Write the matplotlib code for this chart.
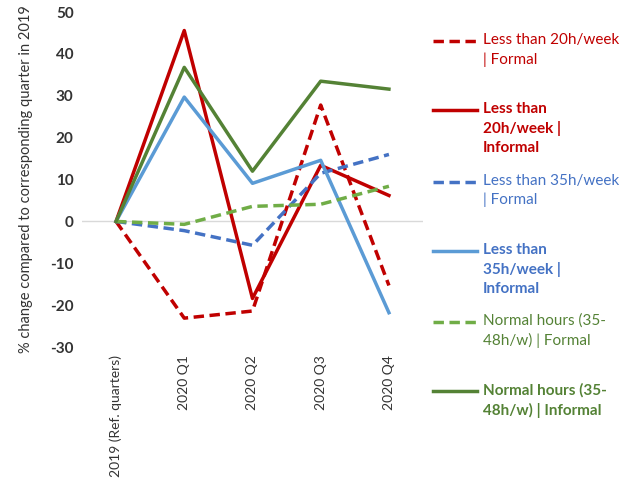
import matplotlib
matplotlib.use("Agg")
import matplotlib.pyplot as plt
from matplotlib.lines import Line2D

plt.rcParams['font.family'] = ['Lato', 'DejaVu Sans']

# data
quarters = ['2019 (Ref. quarters)', '2020 Q1', '2020 Q2', '2020 Q3', '2020 Q4']
lt20_formal = [0, -23.1, -21.4, 27.8, -15.3]
lt20_informal = [0, 45.6, -18.4, 13.4, 6.2]
lt35_formal = [0, -2.2, -5.7, 11.5, 16.0]
lt35_informal = [0, 29.7, 9.1, 14.6, -21.8]
normal_formal = [0, -0.7, 3.6, 4.1, 8.4]
normal_informal = [0, 36.8, 12.0, 33.5, 31.6]

series = [
    ("Less than 20h/week\n| Formal", lt20_formal, '#C00000', '--', 'normal', '#C00000'),
    ("Less than\n20h/week |\nInformal", lt20_informal, '#C00000', '-', 'bold', '#C00000'),
    ("Less than 35h/week\n| Formal", lt35_formal, '#4472C4', '--', 'normal', '#4472C4'),
    ("Less than\n35h/week |\nInformal", lt35_informal, '#5B9BD5', '-', 'bold', '#4472C4'),
    ("Normal hours (35-\n48h/w) | Formal", normal_formal, '#70AD47', '--', 'normal', '#548235'),
    ("Normal hours (35-\n48h/w) | Informal", normal_informal, '#548235', '-', 'bold', '#548235'),
]

fig = plt.figure(figsize=(6.4, 4.84), dpi=100)
ax = fig.add_axes([0.128, 0.283, 0.533, 0.692])

x = list(range(len(quarters)))
ax.axhline(0, color='#D9D9D9', lw=1, zorder=0)
for label, vals, col, ls, wt, tcol in series:
    if ls == '--':
        ax.plot(x, vals, color=col, lw=2.5, dashes=(3, 1.6))
    else:
        ax.plot(x, vals, color=col, lw=2.5)

ax.set_xlim(-0.5, len(quarters) - 0.5)
ax.set_ylim(-30, 50)
ax.set_yticks(range(-30, 51, 10))
ax.set_yticklabels([str(v) for v in range(-30, 51, 10)], fontweight='bold', fontsize=11, color='#333333')
ax.set_xticks(x)
ax.set_xticklabels(quarters, rotation=90, fontsize=10, color='#333333', va='top')
ax.tick_params(length=0, pad=6)
for s in ax.spines.values():
    s.set_visible(False)
ax.set_ylabel('% change compared to corresponding quarter in 2019', fontsize=10.5, color='#333333', labelpad=12)

# legend drawn at the right side
y_pos = [0.915, 0.773, 0.624, 0.481, 0.335, 0.192]
for (label, vals, col, ls, wt, tcol), yy in zip(series, y_pos):
    ln = Line2D([0.677, 0.746], [yy, yy], transform=fig.transFigure, color=col, lw=2.5,
                linestyle=(0, (3, 1.6)) if ls == '--' else '-')
    fig.add_artist(ln)
    fig.text(0.755, yy + 0.017, label, fontsize=11, color=tcol, fontweight=wt,
             va='top', ha='left', linespacing=1.45)

fig.savefig('out.png', dpi=100)
